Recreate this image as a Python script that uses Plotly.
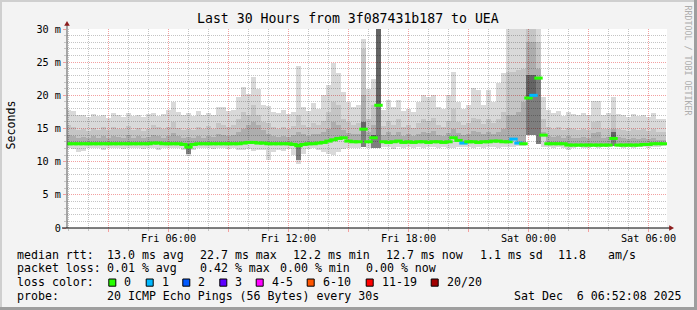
import plotly.graph_objects as go
import pandas as pd
import numpy as np

# ---------------- data ----------------
times = pd.date_range("2025-12-05 01:00", periods=120, freq="15min")

ping_max = [17.8, 17.6, 17.0, 17.1, 16.8, 17.2, 16.9, 17.0, 16.6, 17.3,
            17.0, 16.8, 17.3, 16.9, 17.1, 16.7, 17.2, 17.4, 16.9, 17.2,
            17.8, 19.0, 17.5, 17.0, 17.3, 16.9, 17.6, 17.1, 17.4, 17.0,
            18.3, 18.3, 17.6, 17.8, 19.8, 21.2, 20.2, 22.8, 21.0, 18.6,
            18.4, 17.5, 17.3, 17.8, 17.2, 17.5, 24.4, 18.2, 17.6, 18.8,
            18.0, 20.0, 21.5, 24.9, 23.4, 20.5, 19.0, 18.3, 18.5, 28.5,
            21.0, 22.5, 31.0, 17.8, 19.3, 18.2, 19.3, 17.6, 18.0, 17.5,
            19.0, 20.0, 19.8, 20.0, 18.3, 18.0, 20.0, 23.5, 19.0, 18.0,
            18.6, 21.1, 20.8, 18.5, 20.8, 19.0, 21.8, 23.3, 31.0, 31.0,
            31.0, 31.0, 31.0, 31.0, 30.0, 19.8, 17.8, 17.3, 17.6, 16.9,
            17.5, 17.2, 17.0, 17.4, 17.0, 19.2, 19.2, 17.1, 17.3, 19.8,
            17.2, 17.0, 16.8, 17.2, 16.9, 17.0, 16.7, 17.3, 16.5, 16.4]

ping_upper = [15.6, 15.2, 14.8, 15.0, 14.6, 15.1, 14.8, 15.3, 14.7, 15.2,
              14.9, 15.0, 15.4, 14.8, 15.1, 14.6, 15.0, 15.5, 15.2, 14.9,
              15.3, 16.0, 15.1, 14.8, 15.0, 14.7, 15.2, 14.9, 15.4, 15.0,
              15.8, 15.6, 15.2, 15.5, 16.5, 17.5, 17.0, 18.5, 17.0, 16.0,
              15.8, 15.2, 14.9, 15.3, 15.0, 15.4, 17.0, 15.6, 15.2, 15.8,
              15.5, 16.2, 17.5, 19.0, 18.5, 16.5, 16.0, 15.6, 15.8, 27.0,
              16.5, 18.5, 31.0, 15.4, 16.2, 15.5, 16.4, 15.2, 15.6, 15.1,
              15.9, 16.5, 16.2, 16.6, 15.5, 15.3, 16.2, 18.0, 16.0, 15.6,
              15.8, 16.6, 16.5, 15.7, 16.4, 15.9, 16.5, 17.5, 23.5, 23.5,
              23.8, 24.0, 31.0, 31.0, 28.0, 16.5, 15.3, 15.0, 15.2, 14.8,
              15.1, 14.9, 14.8, 15.0, 14.7, 16.0, 16.2, 14.9, 15.0, 17.0,
              15.0, 14.8, 14.6, 15.0, 14.7, 14.9, 14.6, 15.0, 14.5, 14.4]

ping_core = [14.0, 13.8, 13.6, 13.7, 13.5, 13.8, 13.6, 13.9, 13.5, 13.8,
             13.7, 13.6, 14.0, 13.6, 13.8, 13.5, 13.7, 14.0, 13.9, 13.6,
             13.9, 14.3, 13.8, 13.6, 13.7, 13.5, 13.8, 13.6, 13.9, 13.7,
             14.1, 14.0, 13.8, 14.0, 14.5, 15.0, 15.5, 16.0, 15.5, 14.8,
             14.2, 13.9, 13.7, 13.9, 13.7, 14.0, 14.5, 14.1, 13.9, 14.2,
             14.1, 14.5, 15.0, 16.0, 15.5, 14.8, 14.3, 14.1, 14.2, 20.0,
             14.5, 15.5, 31.0, 14.0, 14.4, 14.0, 14.5, 13.9, 14.1, 13.9,
             14.2, 14.5, 14.3, 14.6, 14.0, 13.9, 14.3, 15.0, 14.3, 14.0,
             14.2, 14.6, 14.5, 14.1, 14.5, 14.2, 14.5, 15.0, 17.0, 17.0,
             17.5, 19.0, 28.0, 28.0, 24.0, 14.5, 13.9, 13.7, 13.8, 13.6,
             13.8, 13.6, 13.5, 13.7, 13.5, 14.3, 14.4, 13.6, 13.7, 15.0,
             13.7, 13.5, 13.4, 13.6, 13.4, 13.5, 13.4, 13.6, 13.3, 13.3]

ping_min = [12.1, 11.9, 11.5, 11.6, 12.0, 12.1, 12.0, 11.8, 12.1, 12.0,
            12.1, 11.9, 12.1, 12.0, 12.1, 11.9, 12.1, 12.0, 11.8, 12.0,
            12.1, 12.0, 12.1, 11.8, 10.8, 11.8, 12.1, 12.0, 12.1, 11.9,
            12.1, 12.0, 11.9, 12.0, 11.8, 11.7, 11.9, 11.6, 11.8, 11.7,
            10.3, 11.5, 11.8, 11.6, 11.9, 11.0, 9.6, 11.2, 11.9, 12.0,
            11.8, 11.5, 11.1, 11.0, 11.5, 11.9, 12.0, 12.1, 12.0, 12.2,
            12.1, 12.0, 12.1, 12.2, 12.2, 11.9, 12.2, 12.1, 12.2, 12.0,
            12.2, 12.1, 12.2, 12.2, 12.0, 12.2, 12.1, 12.0, 12.2, 12.2,
            12.2, 12.1, 12.2, 12.0, 12.2, 12.2, 12.1, 12.2, 12.2, 12.2,
            12.3, 12.4, 14.0, 14.0, 12.6, 12.2, 12.2, 12.1, 12.2, 12.0,
            11.8, 12.1, 12.2, 12.0, 12.0, 12.2, 12.1, 12.2, 12.2, 12.3,
            12.2, 12.1, 12.2, 12.0, 12.2, 12.2, 12.1, 12.2, 12.2, 12.3]

median_rtt = [12.7, 12.7, 12.7, 12.7, 12.7, 12.7, 12.7, 12.7, 12.7, 12.7,
              12.7, 12.7, 12.7, 12.7, 12.7, 12.7, 12.7, 12.8, 12.8, 12.7,
              12.7, 12.7, 12.7, 12.6, 12.2, 12.6, 12.7, 12.7, 12.7, 12.7,
              12.7, 12.7, 12.7, 12.7, 12.7, 12.8, 12.9, 12.9, 12.8, 12.8,
              12.7, 12.7, 12.7, 12.7, 12.7, 12.6, 12.4, 12.6, 12.7, 12.7,
              12.8, 12.9, 13.1, 13.3, 13.5, 13.6, 13.1, 13.0, 13.0, 14.9,
              13.0, 13.6, 18.5, 13.0, 12.9, 13.0, 13.1, 12.9, 13.0, 12.9,
              13.0, 13.0, 12.9, 13.0, 13.0, 12.9, 13.0, 13.6, 13.2, 12.8,
              13.0, 13.0, 12.9, 13.0, 13.0, 13.1, 13.1, 13.0, 13.0, 13.4,
              12.8, 12.7, 19.6, 20.0, 22.6, 14.0, 12.7, 12.7, 12.7, 12.7,
              12.5, 12.5, 12.5, 12.5, 12.5, 12.5, 12.5, 12.5, 12.5, 13.5,
              12.5, 12.5, 12.5, 12.5, 12.5, 12.6, 12.6, 12.7, 12.7, 12.7]

packet_loss = [0] * 79 + [1] + [0] * 9 + [1, 1, 0, 0, 1] + [0] * 26

dark_index = [24, 46, 59, 61, 62, 92, 93, 94, 109]
dark_low = [11.2, 10.2, 12.2, 12.0, 12.1, 14.0, 14.0, 12.6, 12.3]
dark_high = [12.6, 12.6, 16.0, 14.0, 30.0, 23.0, 23.0, 22.6, 14.5]

loss_labels = ["0", "1", "2", "3", "4-5", "6-10", "11-19", "20/20"]
loss_colors = ["#26ff00", "#00b8ff", "#0059ff", "#5e00ff", "#ff00ff",
               "#ff5500", "#ff0000", "#a10000"]

major_ticks = ["2025-12-05 03:00", "2025-12-05 06:00", "2025-12-05 09:00",
               "2025-12-05 12:00", "2025-12-05 15:00", "2025-12-05 18:00",
               "2025-12-05 21:00", "2025-12-06 00:00", "2025-12-06 03:00",
               "2025-12-06 06:00"]
major_labels = ["", "Fri 06:00", "", "Fri 12:00", "", "Fri 18:00", "",
                "Sat 00:00", "", "Sat 06:00"]
y_ticks = [0, 5, 10, 15, 20, 25, 30]
y_labels = ["0", "5 m", "10 m", "15 m", "20 m", "25 m", "30 m"]

title_text = "Last 30 Hours from 3f087431b187 to UEA"
rtt_line = [("median rtt:", 16), ("13.0 ms avg", 106), ("22.7 ms max", 199),
            ("12.2 ms min", 292), ("12.7 ms now", 385), ("1.1 ms sd", 478.5),
            ("11.8", 557), ("am/s", 606.5)]
loss_line = [("packet loss:", 16), ("0.01 % avg", 106), ("0.42 % max", 199),
             ("0.00 % min", 278.5), ("0.00 % now", 365)]
probe_line = [("probe:", 16), ("20 ICMP Echo Pings (56 Bytes) every 30s", 106),
              ("Sat Dec  6 06:52:08 2025", 512.5)]
legend_box_x = [108.3, 145.7, 182.3, 219.3, 255.7, 306.7, 365.7, 430.7]

# ---------------- geometry helpers ----------------
W, H = 697, 310
PL, PR, PT, PB = 67, 667, 29, 228
MONO = "DejaVu Sans Mono"


def fx(p):
    return (p - PL) / (PR - PL)


def fy(p):
    return (PB - p) / (PB - PT)


def nb(s):
    return s.replace(" ", "\u00a0")


lo = np.array(ping_min)
hi = np.array(ping_max)
up = np.array(ping_upper)
core = np.array(ping_core)
med = np.array(median_rtt)
BW = 15 * 60 * 1000

fig = go.Figure()
fig.add_trace(go.Bar(x=times, y=hi - lo, base=lo, width=BW,
                     marker=dict(color="rgba(0,0,0,0.15)", line=dict(width=0)),
                     hoverinfo="skip"))
fig.add_trace(go.Bar(x=times, y=up - med, base=med, width=BW,
                     marker=dict(color="rgba(0,0,0,0.09)", line=dict(width=0)),
                     hoverinfo="skip"))
fig.add_trace(go.Bar(x=times, y=core - med, base=med, width=BW,
                     marker=dict(color="rgba(0,0,0,0.12)", line=dict(width=0)),
                     hoverinfo="skip"))
dl = np.array(dark_low)
dh = np.array(dark_high)
fig.add_trace(go.Bar(x=times[dark_index], y=dh - dl, base=dl, width=BW,
                     marker=dict(color="rgba(0,0,0,0.42)", line=dict(width=0)),
                     hoverinfo="skip"))
pt_colors = [loss_colors[v] for v in packet_loss]
fig.add_trace(go.Scatter(x=times, y=med, mode="markers",
                         marker=dict(symbol="line-ew", size=6, color=pt_colors,
                                     line=dict(width=3, color=pt_colors)),
                         hoverinfo="skip"))

shapes = []
# frame shading
shapes.append(dict(type="rect", xref="paper", yref="paper", x0=fx(0), x1=fx(W),
                   y0=fy(0), y1=fy(2), fillcolor="#CFCFCF", line=dict(width=0)))
shapes.append(dict(type="rect", xref="paper", yref="paper", x0=fx(0), x1=fx(2),
                   y0=fy(0), y1=fy(H), fillcolor="#CFCFCF", line=dict(width=0)))
shapes.append(dict(type="rect", xref="paper", yref="paper", x0=fx(0), x1=fx(W),
                   y0=fy(H - 3), y1=fy(H), fillcolor="#9E9E9E", line=dict(width=0)))
shapes.append(dict(type="rect", xref="paper", yref="paper", x0=fx(W - 3), x1=fx(W),
                   y0=fy(0), y1=fy(H), fillcolor="#9E9E9E", line=dict(width=0)))
# axes + arrows
shapes.append(dict(type="line", xref="paper", yref="paper", x0=fx(67), x1=fx(67),
                   y0=fy(228), y1=fy(24), line=dict(color="#555555", width=1)))
shapes.append(dict(type="line", xref="paper", yref="paper", x0=fx(62), x1=fx(671),
                   y0=fy(228), y1=fy(228), line=dict(color="#000000", width=1)))
shapes.append(dict(type="path", xref="paper", yref="paper",
                   path=f"M {fx(64.2)} {fy(25.8)} L {fx(67)} {fy(21)} L {fx(69.8)} {fy(25.8)} Z",
                   fillcolor="#8C1C1C", line=dict(width=0)))
shapes.append(dict(type="path", xref="paper", yref="paper",
                   path=f"M {fx(669.2)} {fy(225.2)} L {fx(674)} {fy(228)} L {fx(669.2)} {fy(230.8)} Z",
                   fillcolor="#8C1C1C", line=dict(width=0)))
# legend colour boxes
for bx, c in zip(legend_box_x, loss_colors):
    shapes.append(dict(type="rect", xref="paper", yref="paper",
                       x0=fx(bx + 0.5), x1=fx(bx + 7.5), y0=fy(286.2), y1=fy(279.0),
                       fillcolor=c, line=dict(color="#000000", width=1)))

ann = []


def text(s, x, y, size=11.6, anchor="left", color="#000000", angle=0):
    ann.append(dict(text=nb(s), x=fx(x), y=fy(y), xref="paper", yref="paper",
                    xanchor=anchor, yanchor="middle", showarrow=False,
                    textangle=angle,
                    font=dict(family=MONO, size=size, color=color)))


text(title_text, 348, 18.5, size=13.2, anchor="center")
text("Seconds", 10.5, 125, size=11.6, anchor="center", angle=-90)
text("RRDTOOL / TOBI OETIKER", 687.5, 60, size=8.3, anchor="center",
     color="#ADADAD", angle=90)

ROW = [254.5, 268.2, 281.9, 295.6]
for s, x in rtt_line:
    text(s, x - 1, ROW[0])
for s, x in loss_line:
    text(s, x - 1, ROW[1])
text("loss color:", 15, ROW[2])
for bx, lab in zip(legend_box_x, loss_labels):
    text(lab, bx + 14, ROW[2])
for s, x in probe_line:
    text(s, x - 1, ROW[3])

grid_major = "#F2A0A0"
grid_minor = "#C4C4C4"

fig.update_layout(
    width=W, height=H,
    margin=dict(l=PL, r=W - PR, t=PT, b=H - PB, pad=0),
    paper_bgcolor="#F3F3F3", plot_bgcolor="#FFFFFF",
    barmode="overlay", bargap=0, showlegend=False,
    shapes=shapes, annotations=ann,
    xaxis=dict(type="date",
               range=["2025-12-05 00:55:30", "2025-12-06 06:55:30"],
               tickmode="array", tickvals=major_ticks, ticktext=major_labels,
               showgrid=True, gridcolor=grid_major, gridwidth=1, griddash="1px,1px",
               ticks="outside", ticklen=3, tickcolor=grid_major,
               ticklabelstandoff=-2,
               minor=dict(dtick=3600000, tick0="2025-12-05 00:00", showgrid=True,
                          gridcolor=grid_minor, gridwidth=1, griddash="1px,1px",
                          ticks="outside", ticklen=2, tickcolor=grid_minor),
               tickfont=dict(family=MONO, size=10.2, color="#000000"),
               showline=False, zeroline=False, fixedrange=True),
    yaxis=dict(range=[0, 30], tickmode="array", tickvals=y_ticks, ticktext=y_labels,
               showgrid=True, gridcolor=grid_major, gridwidth=1, griddash="1px,1px",
               ticks="outside", ticklen=3, tickcolor=grid_major,
               minor=dict(dtick=1, tick0=0, showgrid=True, gridcolor=grid_minor,
                          gridwidth=1, griddash="1px,1px",
                          ticks="outside", ticklen=2, tickcolor=grid_minor),
               tickfont=dict(family=MONO, size=10.2, color="#000000"),
               showline=False, zeroline=False, fixedrange=True),
)

fig.write_html("out.html")
